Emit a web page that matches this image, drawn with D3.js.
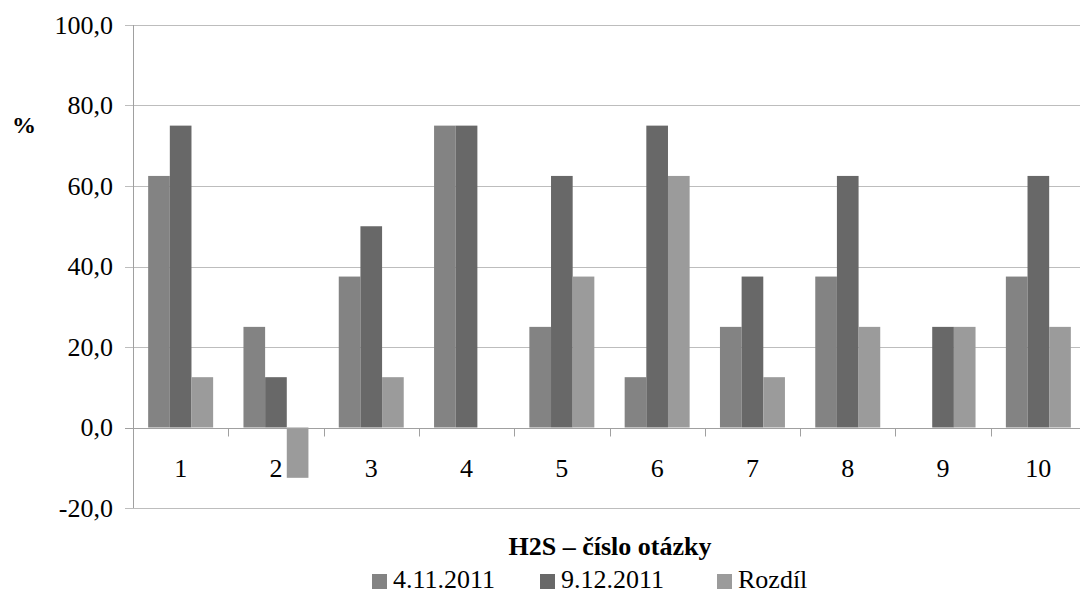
<!DOCTYPE html>
<html>
<head>
<meta charset="utf-8">
<script src="https://cdn.jsdelivr.net/npm/d3@7"></script>
<style>
  html, body { margin: 0; padding: 0; background: #fff; overflow: hidden; }
  svg { display: block; font-family: "Liberation Serif", "Times New Roman", serif; }
</style>
</head>
<body>
<svg id="chart" width="1080" height="594"></svg>
<script>
// Question numbers on the x axis
const categories = ["1", "2", "3", "4", "5", "6", "7", "8", "9", "10"];
// Series names (legend)
const seriesNames = ["4.11.2011", "9.12.2011", "Rozdíl"];
// Percentages per question
const first = [62.5, 25, 37.5, 75, 25, 12.5, 25, 37.5, 0, 37.5];
const second = [75, 12.5, 50, 75, 62.5, 75, 37.5, 62.5, 25, 62.5];
const diff = [12.5, -12.5, 12.5, 0, 37.5, 62.5, 12.5, 25, 25, 25];
// Y-axis ticks
const yTicks = [-20, 0, 20, 40, 60, 80, 100];

const colors = ["#838383", "#686868", "#9b9b9b"];
const seriesValues = [first, second, diff];

const svg = d3.select("#chart");
const plot = { left: 133, right: 1086, top: 25, bottom: 508 };
const fontSize = 26;

const x = d3.scaleBand().domain(categories).range([plot.left, plot.right]);
// three bars per group, with a gap of about 1.4 bar widths between groups
const inner = d3.scaleBand().domain(d3.range(seriesNames.length))
  .range([0, x.bandwidth()]).paddingInner(0).paddingOuter(0.7);
const y = d3.scaleLinear().domain([-20, 100]).range([plot.bottom, plot.top]);

// Horizontal grid lines with short left ticks
const grid = svg.append("g");
yTicks.filter(t => t !== 0).forEach(t => {
  grid.append("line")
    .attr("x1", plot.left - 8).attr("x2", plot.right)
    .attr("y1", Math.round(y(t)) + 0.5).attr("y2", Math.round(y(t)) + 0.5)
    .attr("stroke", "#bdbdbd").attr("stroke-width", 1);
});

// Y axis line
svg.append("line")
  .attr("x1", plot.left + 0.5).attr("x2", plot.left + 0.5)
  .attr("y1", plot.top).attr("y2", plot.bottom)
  .attr("stroke", "#a0a0a0");

// Y tick labels
const yAxis = d3.axisLeft(y).tickValues(yTicks).tickSize(0).tickPadding(20)
  .tickFormat(d => d3.format(".1f")(d).replace(".", ",").replace("\u2212", "-"));
const yg = svg.append("g").attr("transform", `translate(${plot.left},0)`).call(yAxis);
yg.select(".domain").remove();
yg.selectAll("text")
  .attr("font-family", "Liberation Serif, Times New Roman, serif")
  .attr("font-size", fontSize).attr("fill", "#000");

// Bars
const groups = svg.append("g").selectAll("g")
  .data(categories).join("g")
  .attr("transform", d => `translate(${x(d)},0)`);

groups.selectAll("rect")
  .data((d, i) => seriesValues.map((vals, s) => ({ s, v: vals[i] })))
  .join("rect")
  .attr("x", d => inner(d.s))
  .attr("width", inner.bandwidth())
  .attr("y", d => y(Math.max(0, d.v)))
  .attr("height", d => Math.abs(y(d.v) - y(0)))
  .attr("fill", d => colors[d.s]);

// Category axis at zero
const y0 = Math.round(y(0)) + 0.5;
svg.append("line")
  .attr("x1", plot.left - 8).attr("x2", plot.right)
  .attr("y1", y0).attr("y2", y0)
  .attr("stroke", "#a0a0a0");
categories.forEach(c => {
  const bx = Math.round(x(c) + x.bandwidth()) + 0.5;
  svg.append("line")
    .attr("x1", bx).attr("x2", bx)
    .attr("y1", y0).attr("y2", y0 + 8)
    .attr("stroke", "#a0a0a0");
});

// Category labels
svg.append("g").selectAll("text")
  .data(categories).join("text")
  .attr("x", d => x(d) + x.bandwidth() / 2)
  .attr("y", 477)
  .attr("text-anchor", "middle")
  .attr("font-size", fontSize)
  .text(d => d);

// Axis titles
svg.append("text")
  .attr("x", 24).attr("y", 133)
  .attr("text-anchor", "middle")
  .attr("font-size", 24).attr("font-weight", "bold")
  .text("%");

svg.append("text")
  .attr("x", 610).attr("y", 555)
  .attr("text-anchor", "middle")
  .attr("font-size", fontSize).attr("font-weight", "bold")
  .text("H2S – číslo otázky");

// Legend
const legendX = [372, 540, 717];
const legend = svg.append("g").selectAll("g")
  .data(seriesNames).join("g")
  .attr("transform", (d, i) => `translate(${legendX[i]},0)`);
legend.append("rect")
  .attr("x", 0).attr("y", 574).attr("width", 15).attr("height", 15)
  .attr("fill", (d, i) => colors[i]);
legend.append("text")
  .attr("x", 21).attr("y", 588)
  .attr("font-size", fontSize)
  .text(d => d);
</script>
</body>
</html>
